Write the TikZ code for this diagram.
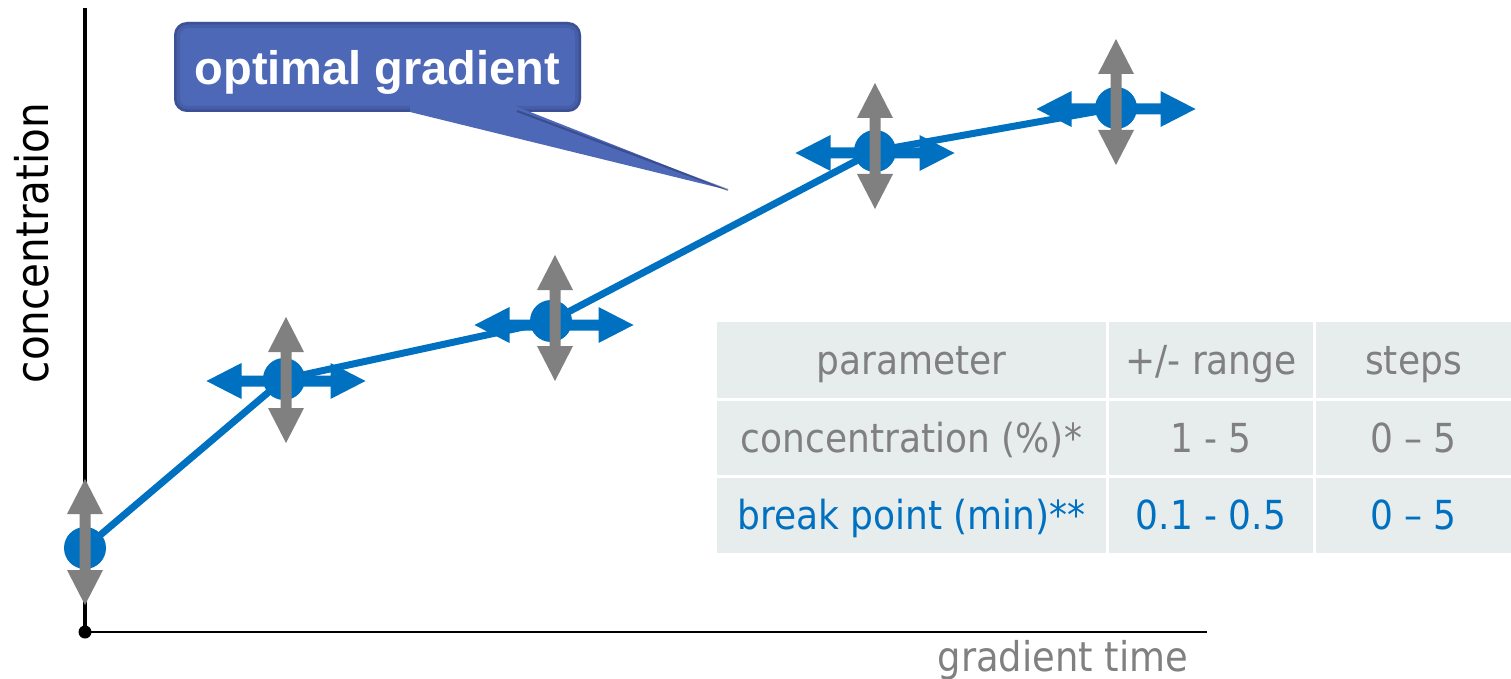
\documentclass[tikz,border=0pt]{standalone}
\usepackage{fontspec}
\setmainfont{Liberation Sans}
\newfontfamily\tah[FakeStretch=0.9]{DejaVu Sans}
\definecolor{cblue}{HTML}{0070C0}
\definecolor{agray}{HTML}{808080}
\definecolor{cellfill}{HTML}{E7ECEC}
\definecolor{callblue}{HTML}{4E68B8}
\definecolor{calldark}{HTML}{26336A}
\tikzset{
  harrow/.pic={\fill[cblue] (-79.5,0) -- (-44.5,-18) -- (-44.5,-5.5) -- (44.5,-5.5) -- (44.5,-18) -- (79.5,0) -- (44.5,18) -- (44.5,5.5) -- (-44.5,5.5) -- (-44.5,18) -- cycle;},
  varrow/.pic={\fill[agray] (0,-63) -- (-18,-28) -- (-5.5,-28) -- (-5.5,28) -- (-18,28) -- (0,63) -- (18,28) -- (5.5,28) -- (5.5,-28) -- (18,-28) -- cycle;},
  dotnode/.style={circle, fill=cblue, minimum size=42pt, inner sep=0pt},
  cell/.style={fill=cellfill, inner sep=0pt, text height=31pt, text depth=3pt, font=\fontsize{40}{42}\tah},
  graytxt/.style={text=agray},
  bluetxt/.style={text=cblue}
}
\begin{document}
\begin{tikzpicture}[x=1pt,y=-1pt]
\useasboundingbox (0,0) rectangle (1511,679);
% axes
\coordinate (o) at (85,632);
\coordinate (ytop) at (85,8);
\coordinate (xend) at (1207,632);
\draw[line width=4pt] (o) -- (ytop);
\draw[line width=2pt] (o) -- (xend);
\fill (o) circle (6.5pt);
\node[rotate=90, anchor=base, inner sep=0pt, font=\fontsize{45}{48}\tah] (ylab) at (48,243) {concentration};
\node[anchor=base, inner sep=0pt, text=agray, font=\fontsize{41}{44}\tah] (xlab) at (1063,671) {gradient time};
% callout
\begin{scope}
\fill[callblue, rounded corners=13pt] (174,22) rectangle (581,112);
\clip[rounded corners=13pt] (174,22) rectangle (581,112);
\draw[calldark, line width=12pt, opacity=0.2, rounded corners=13pt] (174,22) rectangle (581,112);
\draw[calldark, line width=5pt, opacity=0.3, rounded corners=13pt] (174,22) rectangle (581,112);
\end{scope}
\fill[callblue] (410,106) -- (515,106) -- (728,190) -- (410,112) -- cycle;
\draw[calldark, line width=2pt, opacity=0.5] (517,111) -- (728,190);
\node[anchor=base, inner sep=0pt, text=white, font=\fontsize{47}{50}\selectfont\bfseries] (title) at (377.5,85) {optimal gradient};
% curve
\coordinate (p1) at (85,548);
\coordinate (p2) at (284,379);
\coordinate (p3) at (551,321);
\coordinate (p4) at (875,151);
\coordinate (p5) at (1116,108);
\draw[cblue, line width=7pt, line join=round] (p1) -- (p2) -- (p3) -- (p4) -- (p5);
\node[dotnode] (c1) at (p1) {};
\node[dotnode] (c2) at (p2) {};
\node[dotnode] (c3) at (p3) {};
\node[dotnode] (c4) at (p4) {};
\node[dotnode] (c5) at (p5) {};
\pic at (286,381) {harrow};
\pic at (554,325) {harrow};
\pic at (875,153) {harrow};
\pic at (1116,109) {harrow};
\pic at (85,542) {varrow};
\pic at (286,380) {varrow};
\pic at (555,318) {varrow};
\pic at (875,146) {varrow};
\pic at (1116,102) {varrow};
% table
\node[cell, graytxt, minimum width=389pt, minimum height=76pt] (t11) at (911.5,360) {parameter};
\node[cell, graytxt, minimum width=204pt, minimum height=76pt] (t12) at (1211,360) {+/- range};
\node[cell, graytxt, minimum width=195pt, minimum height=76pt] (t13) at (1413.5,360) {steps};
\node[cell, graytxt, minimum width=389pt, minimum height=74pt] (t21) at (911.5,438) {concentration (\%)*};
\node[cell, graytxt, minimum width=204pt, minimum height=74pt] (t22) at (1211,438) {1 - 5};
\node[cell, graytxt, minimum width=195pt, minimum height=74pt] (t23) at (1413.5,438) {0 – 5};
\node[cell, bluetxt, minimum width=389pt, minimum height=75pt] (t31) at (911.5,515.5) {break point (min)**};
\node[cell, bluetxt, minimum width=204pt, minimum height=75pt] (t32) at (1211,515.5) {0.1 - 0.5};
\node[cell, bluetxt, minimum width=195pt, minimum height=75pt] (t33) at (1413.5,515.5) {0 – 5};
\end{tikzpicture}
\end{document}
